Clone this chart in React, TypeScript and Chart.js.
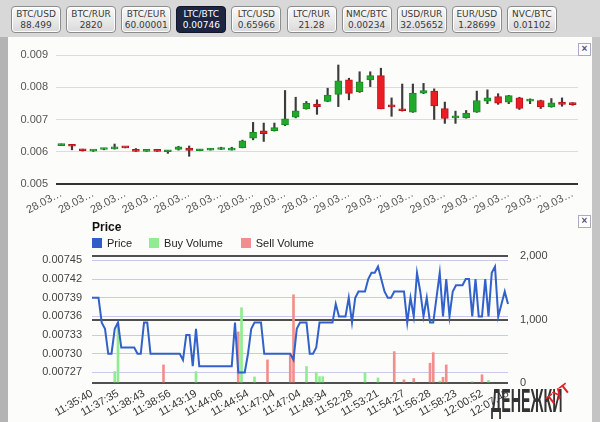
import React, { useEffect, useRef } from 'react';
import { Chart, registerables } from 'chart.js';

Chart.register(...registerables);

// ---------- ticker bar ----------
const pairNames = ['BTC/USD', 'BTC/RUR', 'BTC/EUR', 'LTC/BTC', 'LTC/USD', 'LTC/RUR', 'NMC/BTC', 'USD/RUR', 'EUR/USD', 'NVC/BTC'];
const pairPrices = ['88.499', '2820', '60.00001', '0.00746', '0.65966', '21.28', '0.00234', '32.05652', '1.28699', '0.01102'];
const selectedPair = 'LTC/BTC';

// ---------- candlestick chart ----------
const candleDays = [
  '28.03…', '28.03…', '28.03…', '28.03…', '28.03…', '28.03…', '28.03…', '28.03…', '28.03…', '28.03…',
  '28.03…', '28.03…', '28.03…', '28.03…', '28.03…', '28.03…', '28.03…', '28.03…', '28.03…', '28.03…',
  '28.03…', '28.03…', '28.03…', '28.03…', '28.03…', '28.03…', '28.03…',
  '29.03…', '29.03…', '29.03…', '29.03…', '29.03…', '29.03…', '29.03…', '29.03…', '29.03…', '29.03…',
  '29.03…', '29.03…', '29.03…', '29.03…', '29.03…', '29.03…', '29.03…', '29.03…', '29.03…', '29.03…',
  '29.03…', '29.03…',
];
const candleOpen = [
  0.00619, 0.00620, 0.00607, 0.00602, 0.00607, 0.00609, 0.00615, 0.00606, 0.00601, 0.00604,
  0.00600, 0.00607, 0.00611, 0.00603, 0.00605, 0.00607, 0.00605, 0.00613, 0.00642, 0.00665,
  0.00665, 0.00683, 0.00707, 0.00733, 0.00748, 0.00756, 0.00778, 0.00823, 0.00786, 0.00823,
  0.00836, 0.00745, 0.00733, 0.00723, 0.00782, 0.00788, 0.00734, 0.00705, 0.00705, 0.00723,
  0.00757, 0.00771, 0.00754, 0.00767, 0.00757, 0.00759, 0.00739, 0.00754, 0.00751,
];
const candleHigh = [
  0.00624, 0.00620, 0.00608, 0.00605, 0.00610, 0.00624, 0.00615, 0.00610, 0.00604, 0.00604,
  0.00604, 0.00617, 0.00618, 0.00607, 0.00610, 0.00614, 0.00614, 0.00636, 0.00691, 0.00689,
  0.00689, 0.00790, 0.00769, 0.00756, 0.00761, 0.00797, 0.00869, 0.00828, 0.00848, 0.00848,
  0.00859, 0.00767, 0.00810, 0.00810, 0.00812, 0.00795, 0.00754, 0.00726, 0.00728, 0.00788,
  0.00792, 0.00780, 0.00775, 0.00769, 0.00764, 0.00760, 0.00765, 0.00767, 0.00752,
];
const candleLow = [
  0.00619, 0.00606, 0.00602, 0.00601, 0.00606, 0.00608, 0.00612, 0.00601, 0.00601, 0.00601,
  0.00595, 0.00605, 0.00586, 0.00603, 0.00605, 0.00607, 0.00605, 0.00612, 0.00637, 0.00632,
  0.00664, 0.00681, 0.00705, 0.00732, 0.00716, 0.00755, 0.00740, 0.00761, 0.00784, 0.00802,
  0.00733, 0.00710, 0.00726, 0.00722, 0.00780, 0.00700, 0.00688, 0.00688, 0.00704, 0.00722,
  0.00749, 0.00747, 0.00749, 0.00731, 0.00749, 0.00734, 0.00738, 0.00741, 0.00744,
];
const candleClose = [
  0.00622, 0.00617, 0.00603, 0.00605, 0.00610, 0.00614, 0.00612, 0.00601, 0.00604, 0.00601,
  0.00603, 0.00615, 0.00604, 0.00607, 0.00608, 0.00611, 0.00609, 0.00634, 0.00660, 0.00656,
  0.00675, 0.00702, 0.00727, 0.00750, 0.00740, 0.00776, 0.00820, 0.00781, 0.00817, 0.00836,
  0.00733, 0.00739, 0.00727, 0.00782, 0.00790, 0.00742, 0.00703, 0.00711, 0.00720, 0.00759,
  0.00767, 0.00751, 0.00774, 0.00734, 0.00762, 0.00739, 0.00752, 0.00747, 0.00746,
];

// ---------- trades chart ----------
const tradeTimes = [
  '11:35:40', '11:37:35', '11:38:43', '11:38:56', '11:43:19', '11:44:06', '11:44:54', '11:47:04', '11:47:04',
  '11:49:34', '11:52:28', '11:53:21', '11:54:27', '11:56:28', '11:58:23', '12:00:52', '12:07:45',
];
const priceValues = [
  0.00739, 0.00739, 0.00739, 0.00735, 0.00734, 0.00730, 0.00730, 0.00734, 0.00735, 0.00731,
  0.00731, 0.00731, 0.00731, 0.00731, 0.00730, 0.00730, 0.00735, 0.00735, 0.00730, 0.00730,
  0.00730, 0.00730, 0.00730, 0.00730, 0.00730, 0.00730, 0.00730, 0.00730, 0.00729, 0.00733,
  0.00733, 0.00728, 0.00734, 0.00728, 0.00728, 0.00728, 0.00728, 0.00728, 0.00728, 0.00728,
  0.00728, 0.00728, 0.00728, 0.00728, 0.00735, 0.00727, 0.00727, 0.00727, 0.00730, 0.00734,
  0.00735, 0.00735, 0.00735, 0.00730, 0.00730, 0.00730, 0.00730, 0.00730, 0.00730, 0.00730,
  0.00730, 0.00730, 0.00729, 0.00734, 0.00735, 0.00735, 0.00735, 0.00730, 0.00730, 0.00731,
  0.00735, 0.00735, 0.00735, 0.00735, 0.00735, 0.00738, 0.00736, 0.00736, 0.00736, 0.00739,
  0.00735, 0.00739, 0.00740, 0.00740, 0.00740, 0.00742, 0.00743, 0.00743, 0.00744, 0.00742,
  0.00740, 0.00739, 0.00739, 0.00740, 0.00740, 0.00740, 0.00740, 0.00735, 0.00739, 0.00736,
  0.00743, 0.00740, 0.00736, 0.00739, 0.00735, 0.00735, 0.00739, 0.00743, 0.00736, 0.00742,
  0.00736, 0.00740, 0.00741, 0.00741, 0.00741, 0.00742, 0.00742, 0.00736, 0.00742, 0.00736,
  0.00736, 0.00742, 0.00736, 0.00743, 0.00744, 0.00736, 0.00738, 0.00740, 0.00738,
];
const buyIndex = [7, 8, 32, 46, 50, 66, 69, 70, 71, 84, 88, 107, 117, 122];
const buyAmount = [180, 940, 180, 1185, 95, 260, 170, 100, 100, 160, 80, 30, 20, 40];
const sellIndex = [22, 45, 54, 61, 62, 93, 96, 99, 104, 105, 108, 109, 120];
const sellAmount = [285, 805, 364, 440, 1390, 494, 50, 70, 312, 478, 90, 285, 130];
const priceTicks = [0.00727, 0.0073, 0.00733, 0.00736, 0.00739, 0.00742, 0.00745];
const volumeTicks = [0, 1000, 2000];

const FONT = 'Arial, "Liberation Sans", sans-serif';
const UP = '#22a82c';
const DOWN = '#ea1c24';

function CandleChart() {
  const ref = useRef<HTMLCanvasElement>(null);
  useEffect(() => {
    if (!ref.current) return;
    const chart = new Chart(ref.current, {
      type: 'bar',
      data: {
        labels: candleDays,
        datasets: [
          {
            label: 'Range',
            data: candleLow.map((l, i) => [l, candleHigh[i]]) as any,
            backgroundColor: '#3c3c3c',
            barThickness: 1.5,
            grouped: false,
            order: 2,
          },
          {
            label: 'Body',
            data: candleOpen.map((o, i) => [o, candleClose[i]]) as any,
            backgroundColor: (c: any) => (candleClose[c.dataIndex] >= candleOpen[c.dataIndex] ? UP : DOWN),
            borderColor: (c: any) => (candleClose[c.dataIndex] >= candleOpen[c.dataIndex] ? '#178a20' : '#b8141a'),
            borderWidth: 1,
            borderSkipped: false,
            barThickness: 7,
            minBarLength: 2,
            grouped: false,
            order: 1,
          },
        ],
      },
      options: {
        responsive: false,
        animation: false,
        devicePixelRatio: 1,
        layout: { padding: { top: 15, right: 12, left: 0, bottom: 0 } },
        plugins: { legend: { display: false }, tooltip: { enabled: false } },
        scales: {
          x: {
            offset: true,
            grid: { display: false, drawTicks: false },
            border: { display: false },
            ticks: {
              autoSkip: false,
              maxRotation: 28,
              minRotation: 28,
              padding: 3,
              color: '#555',
              font: { family: FONT, size: 11 },
              callback: (_v: any, i: number) => (i % 3 === 0 ? candleDays[i] : ''),
            },
            afterFit: (s: any) => {
              s.height = 36;
              s.paddingLeft = 0;
              s.paddingRight = 0;
            },
          },
          y: {
            min: 0.005,
            max: 0.009,
            border: { display: false },
            grid: {
              drawTicks: false,
              color: (c: any) => (c.index === 0 ? '#333' : '#dcdcdc'),
              lineWidth: (c: any) => (c.index === 0 ? 2 : 1),
            },
            ticks: {
              stepSize: 0.001,
              padding: 8,
              color: '#555',
              font: { family: FONT, size: 11 },
              callback: (v: any) => Number(v).toFixed(3),
            },
            afterFit: (s: any) => {
              s.width = 56;
              s.paddingTop = 0;
              s.paddingBottom = 0;
            },
          },
        },
      },
    });
    return () => chart.destroy();
  }, []);
  return <canvas ref={ref} width={590} height={180} style={{ position: 'absolute', left: 0, top: 40 }} />;
}

function TradesChart() {
  const ref = useRef<HTMLCanvasElement>(null);
  useEffect(() => {
    if (!ref.current) return;
    const labels = priceValues.map((_, i) => (i % 8 === 0 ? tradeTimes[i / 8] : ''));
    const buyData: (number | null)[] = priceValues.map(() => null);
    buyIndex.forEach((k, j) => (buyData[k] = buyAmount[j]));
    const sellData: (number | null)[] = priceValues.map(() => null);
    sellIndex.forEach((k, j) => (sellData[k] = sellAmount[j]));
    const chart = new Chart(ref.current, {
      type: 'bar',
      data: {
        labels,
        datasets: [
          {
            type: 'line',
            label: 'Price',
            data: priceValues,
            yAxisID: 'yPrice',
            borderColor: '#3161c9',
            backgroundColor: '#3161c9',
            borderWidth: 2,
            pointRadius: 0,
            tension: 0,
            order: 0,
          } as any,
          {
            label: 'Buy Volume',
            data: buyData,
            yAxisID: 'yVol',
            backgroundColor: '#8fec8f',
            barThickness: 2,
            grouped: false,
            order: 1,
          },
          {
            label: 'Sell Volume',
            data: sellData,
            yAxisID: 'yVol',
            backgroundColor: '#f38e8e',
            barThickness: 2,
            grouped: false,
            order: 2,
          },
        ],
      },
      options: {
        responsive: false,
        animation: false,
        devicePixelRatio: 1,
        layout: { padding: { top: 44, right: 0, left: 0, bottom: 0 } },
        plugins: { legend: { display: false }, tooltip: { enabled: false } },
        scales: {
          x: {
            offset: false,
            grid: { display: false, drawTicks: false },
            border: { display: false },
            ticks: {
              autoSkip: false,
              maxRotation: 30,
              minRotation: 30,
              padding: 4,
              color: '#333',
              font: { family: FONT, size: 11 },
            },
            afterFit: (s: any) => {
              s.height = 39;
              s.paddingLeft = 0;
              s.paddingRight = 0;
            },
          },
          yPrice: {
            position: 'left',
            min: 0.007253,
            max: 0.007457,
            border: { display: false },
            grid: { drawTicks: false, color: '#c9c9f0', lineWidth: 1 },
            afterBuildTicks: (s: any) => {
              s.ticks = priceTicks.map((v) => ({ value: v }));
            },
            ticks: {
              padding: 10,
              color: '#444',
              font: { family: FONT, size: 11 },
              callback: (v: any) => Number(v).toFixed(5),
            },
            afterFit: (s: any) => {
              s.width = 92;
              s.paddingTop = 0;
              s.paddingBottom = 0;
            },
          },
          yVol: {
            position: 'right',
            min: 0,
            max: 2000,
            border: { display: false },
            grid: { drawTicks: false, color: '#505050', lineWidth: 2 },
            afterBuildTicks: (s: any) => {
              s.ticks = volumeTicks.map((v) => ({ value: v }));
            },
            ticks: {
              padding: 12,
              color: '#444',
              font: { family: FONT, size: 11 },
              callback: (v: any) => Number(v).toLocaleString('en-US'),
            },
            afterFit: (s: any) => {
              s.width = 82;
              s.paddingTop = 0;
              s.paddingBottom = 0;
            },
          },
        },
      },
    });
    return () => chart.destroy();
  }, []);
  return <canvas ref={ref} width={590} height={210} style={{ position: 'absolute', left: 0, top: 212 }} />;
}

function CloseBox({ top }: { top: number }) {
  return (
    <div
      style={{
        position: 'absolute',
        left: 578,
        top,
        width: 13,
        height: 13,
        boxSizing: 'border-box',
        border: '1px solid #a9abc0',
        background: '#fff',
        color: '#4a4f80',
        font: `bold 10px ${FONT}`,
        lineHeight: '10px',
        textAlign: 'center',
      }}
    >
      ×
    </div>
  );
}

export default function App() {
  return (
    <div style={{ position: 'fixed', left: 0, top: 0, width: 600, height: 422, background: '#d8d8d8', overflow: 'hidden' }}>
      <div style={{ position: 'absolute', left: 0, top: 37, width: 8, height: 385, background: '#b4b4b4' }} />
      <div style={{ position: 'absolute', left: 592, top: 37, width: 8, height: 385, background: '#c4c4c4' }} />
      <div style={{ position: 'absolute', left: 8, top: 37, width: 584, height: 385, background: '#fcfcfa' }} />
      {pairNames.map((p, k) => {
        const sel = p === selectedPair;
        return (
          <div
            key={p}
            style={{
              position: 'absolute',
              left: 11 + k * 55.1,
              top: 6,
              width: 50,
              height: 27,
              boxSizing: 'border-box',
              borderRadius: 4,
              border: sel ? '1px solid #10172a' : '1px solid #8c8c8c',
              boxShadow: sel ? 'none' : 'inset 0 0 0 1px #ffffff',
              background: sel ? '#1d2540' : 'linear-gradient(#fbfbfb, #d9d9d9)',
              color: sel ? '#ffffff' : '#3a3a3a',
              font: '9px "DejaVu Sans", Verdana, sans-serif',
              lineHeight: '11px',
              textAlign: 'center',
              paddingTop: 2,
              whiteSpace: 'nowrap',
            }}
          >
            <div>{p}</div>
            <div>{pairPrices[k]}</div>
          </div>
        );
      })}
      <TradesChart />
      <CandleChart />
      <CloseBox top={43} />
      <CloseBox top={215} />
      <div style={{ position: 'absolute', left: 92, top: 220, font: `bold 12px ${FONT}`, color: '#111' }}>Price</div>
      <div style={{ position: 'absolute', left: 92, top: 237, height: 12, display: 'flex', alignItems: 'center', font: `11px ${FONT}`, color: '#222' }}>
        <span style={{ width: 10, height: 10, background: '#2f5fc6', display: 'inline-block', marginRight: 5 }} />
        <span style={{ marginRight: 17 }}>Price</span>
        <span style={{ width: 10, height: 10, background: '#8fec8f', display: 'inline-block', marginRight: 5 }} />
        <span style={{ marginRight: 18 }}>Buy Volume</span>
        <span style={{ width: 10, height: 10, background: '#f38e8e', display: 'inline-block', marginRight: 5 }} />
        <span>Sell Volume</span>
      </div>
      <div
        style={{
          position: 'absolute',
          left: 491,
          top: 382,
          font: `bold 34px ${FONT}`,
          lineHeight: '36px',
          color: '#333333',
          whiteSpace: 'nowrap',
          transform: 'scaleX(0.42)',
          transformOrigin: 'left top',
        }}
      >
        ДЕНЕЖКИ
      </div>
      <div
        style={{
          position: 'absolute',
          left: 545,
          top: 386,
          font: `bold 14px ${FONT}`,
          color: '#e0242a',
          transform: 'rotate(-38deg)',
        }}
      >
        ТУТ
      </div>
    </div>
  );
}
